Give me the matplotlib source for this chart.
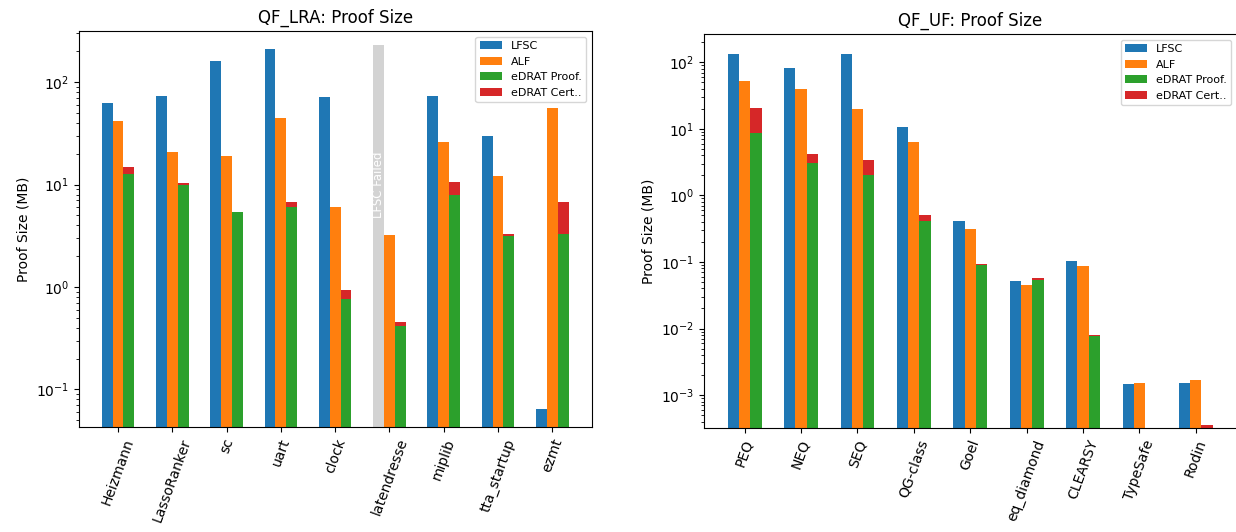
import numpy as np
import matplotlib
matplotlib.use("Agg")
import matplotlib.pyplot as plt

lra_names = ["Heizmann", "LassoRanker", "sc", "uart", "clock",
             "latendresse", "miplib", "tta_startup", "ezmt"]
lra_lfsc = [62, 73, 161, 210, 71, 0, 73, 29.6, 0.064]
lra_alf = [41.5, 20.6, 18.8, 44.4, 6.1, 3.24, 25.8, 12.0, 55.6]
lra_proof = [12.7, 9.8, 5.35, 6.1, 0.77, 0.42, 8.0, 3.16, 3.26]
lra_cert = [2.0, 0.5, 0.08, 0.6, 0.17, 0.04, 2.5, 0.14, 3.5]
lra_failed = "latendresse"
lra_failed_height = 230

uf_names = ["PEQ", "NEQ", "SEQ", "QG-class", "Goel", "eq_diamond",
            "CLEARSY", "TypeSafe", "Rodin"]
uf_lfsc = [133, 82, 133, 10.7, 0.417, 0.0525, 0.105, 0.00145, 0.0015]
uf_alf = [52.5, 39.8, 20, 6.4, 0.316, 0.0445, 0.086, 0.0015, 0.0017]
uf_proof = [8.7, 3.09, 2.0, 0.407, 0.089, 0.054, 0.0078, 0, 1e-5]
uf_cert = [12.0, 1.1, 1.43, 0.1, 0.004, 0.0025, 0.0003, 0, 0.00034]

fig = plt.figure(figsize=(12.36, 5.32), dpi=100)
ax1 = fig.add_axes([0.0639, 0.1974, 0.4150, 0.7444])
ax2 = fig.add_axes([0.5696, 0.1955, 0.4312, 0.7406])


def draw(ax, names, lfsc, alf, proof, cert, title, ylim):
    x = np.arange(len(names))
    w = 0.2
    ax.bar(x - w, lfsc, w, color="tab:blue", label="LFSC")
    ax.bar(x, alf, w, color="tab:orange", label="ALF")
    ax.bar(x + w, proof, w, color="tab:green", label="eDRAT Proof.")
    ax.bar(x + w, cert, w, bottom=proof, color="tab:red", label="eDRAT Cert..")
    ax.set_yscale("log")
    ax.set_ylim(ylim)
    ax.set_xlim(-0.72, len(names) - 1 + 0.73)
    ax.set_xticks(x)
    ax.set_xticklabels(names, rotation=70)
    ax.set_ylabel("Proof Size (MB)")
    ax.set_title(title)
    ax.legend(loc="upper right", fontsize=8)
    return x


x1 = draw(ax1, lra_names, lra_lfsc, lra_alf, lra_proof, lra_cert,
          "QF_LRA: Proof Size", (0.043, 316))
i = lra_names.index(lra_failed)
ax1.bar(x1[i] - 0.2, lra_failed_height, 0.2, color="lightgray")
ax1.text(x1[i] - 0.2, 10, "LFSC Failed", rotation=90, color="white",
         ha="center", va="center", fontsize=8.5)

draw(ax2, uf_names, uf_lfsc, uf_alf, uf_proof, uf_cert,
     "QF_UF: Proof Size", (3.2e-4, 266))

fig.savefig("out.png", dpi=100)
